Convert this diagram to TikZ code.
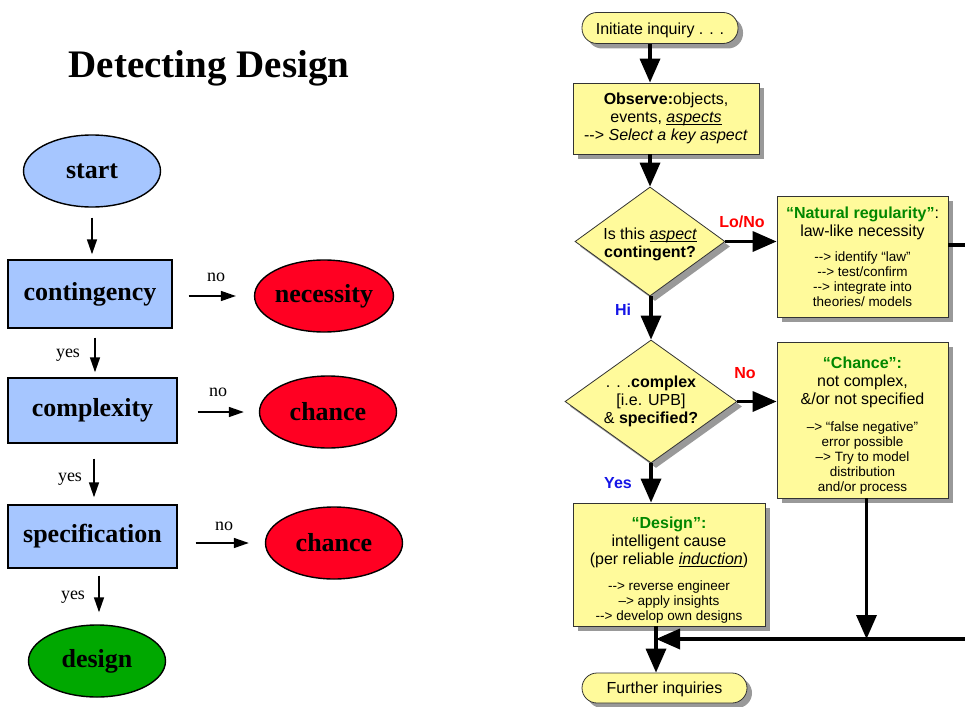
\documentclass[tikz,border=0pt]{standalone}
\usepackage{fontspec}
\setmainfont{Liberation Serif}
\newfontfamily\arialf{Liberation Sans}
\usetikzlibrary{shapes.geometric,arrows.meta,shadows,calc}
\definecolor{lblue}{RGB}{166,198,255}
\definecolor{lred}{RGB}{255,0,34}
\definecolor{lgreen}{RGB}{0,168,0}
\definecolor{ybox}{RGB}{255,250,155}
\definecolor{qgreen}{RGB}{0,135,0}
\definecolor{lblu}{RGB}{20,20,230}
\newcommand\smf{\fontsize{13.5}{15}\selectfont}
\newsavebox\ulbox
\newcommand\ulit[1]{\sbox\ulbox{\itshape #1}\rlap{\rule[-2.5pt]{\wd\ulbox}{0.7pt}}\usebox\ulbox}
\begin{document}
\begin{tikzpicture}[x=1pt,y=-1pt,
  lrect/.style={rectangle,draw,line width=1.4pt,fill=lblue,font=\fontsize{26}{30}\selectfont\bfseries,inner sep=0pt},
  lell/.style={ellipse,draw,line width=1.4pt,font=\fontsize{26}{30}\selectfont\bfseries,minimum width=137pt,minimum height=72pt,inner sep=0pt},
  la/.style={-{Triangle[length=15pt,width=10pt]},line width=1.5pt},
  lab/.style={font=\fontsize{18}{20}\selectfont},
  ybx/.style={rectangle,draw=black!80,line width=0.8pt,fill=ybox,drop shadow={shadow xshift=5pt,shadow yshift=-5pt,fill=black!40,opacity=1},font=\arialf\fontsize{16}{18}\selectfont,align=center,inner sep=0pt},
  ydia/.style={diamond,draw=black!80,line width=0.8pt,fill=ybox,drop shadow={shadow xshift=5pt,shadow yshift=-5pt,fill=black!40,opacity=1},font=\arialf\fontsize{16}{18}\selectfont,align=center,inner sep=0pt},
  ta/.style={-{Triangle[length=24pt,width=20pt]},line width=3.5pt},
  tl/.style={line width=3.5pt},
  clab/.style={font=\arialf\fontsize{16}{18}\selectfont\bfseries}]
\useasboundingbox (0,0) rectangle (965,706);
% ---------------- left diagram
\node[font=\fontsize{39}{44}\selectfont\bfseries] (title) at (209,68) {Detecting Design};
\node[lell,fill=lblue] (start) at (92,171) {start};
\node[lrect,minimum width=164pt,minimum height=68pt] (cont) at (90,294) {contingency};
\node[lell,fill=lred] (nec) at (324,296) {necessity};
\node[lrect,minimum width=169pt,minimum height=65pt] (compl) at (92.5,410.5) {complexity};
\node[lell,fill=lred] (ch1) at (328,412) {chance};
\node[lrect,minimum width=169pt,minimum height=63pt] (spec) at (92.5,536.5) {specification};
\node[lell,fill=lred] (ch2) at (334,543) {chance};
\node[lell,fill=lgreen] (des) at (97,661) {design};

\draw[la,shorten <=10pt,shorten >=5pt] (start.south) -- (start.south |- cont.north);
\draw[la,shorten <=9pt,shorten >=5pt] ([xshift=5pt]cont.south) -- ([xshift=5pt]cont.south |- compl.north);
\draw[la,shorten <=15pt,shorten >=7pt] ([xshift=1.5pt]compl.south) -- ([xshift=1.5pt]compl.south |- spec.north);
\draw[la,shorten <=7pt,shorten >=12pt] ([xshift=6.5pt]spec.south) -- ([xshift=6.5pt]spec.south |- des.north);
\draw[la,shorten <=16pt,shorten >=18pt] (cont.east |- nec.west) -- (nec.west);
\draw[la,shorten <=20pt,shorten >=15pt] (compl.east |- ch1.west) -- (ch1.west);
\draw[la,shorten <=18pt,shorten >=16pt] (spec.east |- ch2.west) -- (ch2.west);

\node[lab] (yes1) at (68,355) {yes};
\node[lab] (yes2) at (70,479) {yes};
\node[lab] (yes3) at (73,597) {yes};
\node[lab] (no1) at (216,277) {no};
\node[lab] (no2) at (218,392) {no};
\node[lab] (no3) at (224,526) {no};

% ---------------- right diagram
\node[ybx,rounded corners=15pt,minimum width=156pt,minimum height=31pt] (init) at (660,28) {\rule{0pt}{16pt}Initiate inquiry . . .};
\node[ybx,minimum width=186pt,minimum height=71pt] (obs) at (666,118.5)
  {\textbf{Observe:}objects,\\ events, \ulit{aspects}\\ -{}-> \textit{Select a key aspect}};
\node[ydia,aspect=1.36,minimum width=150pt,minimum height=109pt] (d1) at (650,241.5)
  {\rule{0pt}{17pt}Is this \ulit{aspect}\\ \textbf{contingent?}};
\node[ybx,minimum width=171pt,minimum height=121pt] (nat) at (862.5,256.5)
  {{\color{qgreen}\bfseries “Natural regularity”}:\\ law-like necessity\\[7pt]
   {\smf -{}-> identify “law”}\\[-3pt] {\smf -{}-> test/confirm}\\[-3pt]
   {\smf -{}-> integrate into}\\[-3pt] {\smf theories/ models}};
\node[ydia,aspect=1.4,minimum width=172pt,minimum height=123pt] (d2) at (651,401.5)
  {. . .\textbf{complex}\\{}[i.e. UPB]\\ \& \textbf{specified?}};
\node[ybx,minimum width=171pt,minimum height=156pt] (cb) at (862.5,420)
  {\rule{0pt}{22pt}{\color{qgreen}\bfseries “Chance”:}\\ not complex,\\ \&/or not specified\\[9pt]
   {\smf –> “false negative”}\\[-3pt] {\smf error possible}\\[-3pt]
   {\smf –> Try to model}\\[-3pt] {\smf distribution}\\[-3pt] {\smf and/or process}};
\node[ybx,minimum width=192pt,minimum height=123pt] (db) at (669,564.5)
  {\rule{0pt}{22pt}{\color{qgreen}\bfseries “Design”:}\\ intelligent cause\\ (per reliable \ulit{induction})\\[8pt]
   {\smf -{}-> reverse engineer}\\[-3pt] {\smf –> apply insights}\\[-3pt] {\smf -{}-> develop own designs}};
\node[ybx,rounded corners=15pt,minimum width=165pt,minimum height=30pt] (fi) at (664.5,688) {\rule{0pt}{15pt}Further inquiries};

\coordinate (nE) at (965,245);
\coordinate (jR) at (965,639);
\coordinate (jL) at (656,639);

\draw[ta] (init.south -| d1.north) -- (obs.north -| d1.north);
\draw[ta] (obs.south -| d1.north) -- (d1.north);
\draw[ta] (d1.east) -- (d1.east -| nat.west);
\draw[ta] (d1.south -| d2.north) -- (d2.north);
\draw[ta] (d2.east) -- (d2.east -| cb.west);
\draw[ta] (d2.south) -- (d2.south |- db.north);
\draw[tl] (nat.east |- nE) -- (nE);
\draw[ta] ([xshift=4pt]cb.south) -- ([xshift=4pt]cb.south |- jR);
\draw[ta] (jR) -- (jL);
\draw[ta] (db.south -| jL) -- (fi.north -| jL);

\node[clab,text=red] (lono) at (742,222) {Lo/No};
\node[clab,text=lblu] (hi) at (623,310) {Hi};
\node[clab,text=red] (nolab) at (745,373) {No};
\node[clab,text=lblu] (yeslab) at (618,483) {Yes};
\end{tikzpicture}
\end{document}
